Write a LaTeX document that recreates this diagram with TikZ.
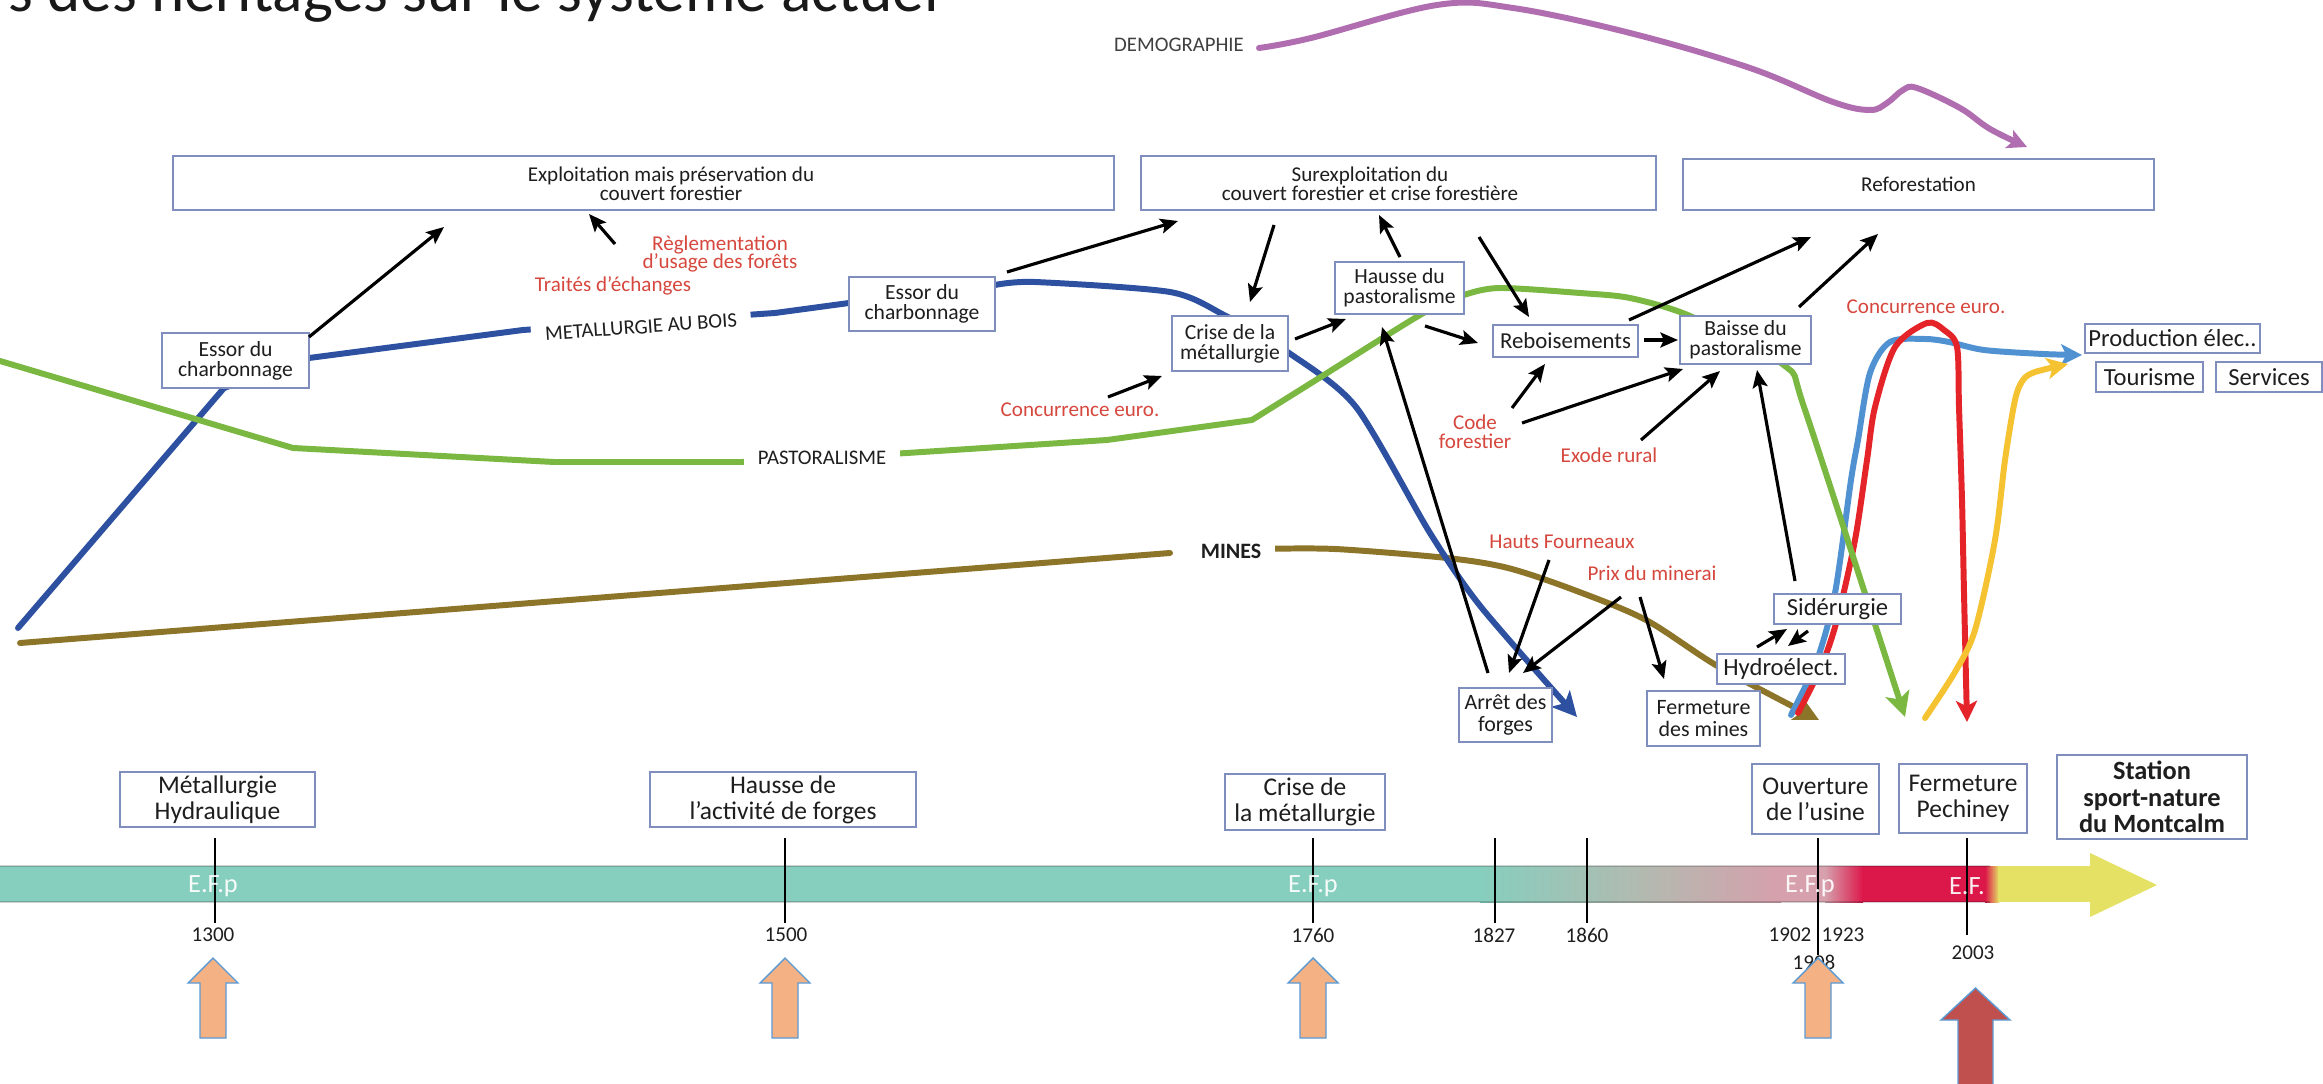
\documentclass[tikz,border=0pt]{standalone}
\usepackage{fontspec}
\setmainfont{Carlito}
\usetikzlibrary{arrows.meta,calc}

\definecolor{boxc}{RGB}{128,142,190}
\definecolor{txtc}{RGB}{30,30,30}
\definecolor{redl}{RGB}{214,72,62}
\definecolor{metb}{RGB}{45,80,160}
\definecolor{pastg}{RGB}{122,184,66}
\definecolor{mineb}{RGB}{140,116,40}
\definecolor{demop}{RGB}{176,110,176}
\definecolor{elecb}{RGB}{80,145,210}
\definecolor{hydror}{RGB}{228,36,40}
\definecolor{touy}{RGB}{245,195,50}
\definecolor{bandteal}{RGB}{134,206,189}
\definecolor{bandgrey}{RGB}{178,186,176}
\definecolor{bandmauve}{RGB}{214,160,172}
\definecolor{bandred}{RGB}{220,24,74}
\definecolor{bandyel}{RGB}{228,225,100}
\definecolor{uparr}{RGB}{244,177,131}
\definecolor{uparrline}{RGB}{91,155,213}
\definecolor{bigarr}{RGB}{192,80,77}

\newcommand{\sztop}{\fontsize{12}{11}\selectfont}
\newcommand{\szmid}{\fontsize{12.3}{11.5}\selectfont}
\newcommand{\szsml}{\fontsize{14}{14}\selectfont}
\newcommand{\sztl}{\fontsize{14.5}{14.8}\selectfont}
\newcommand{\szred}{\fontsize{12}{10.6}\selectfont}
\newcommand{\szline}{\fontsize{11.8}{12}\selectfont}
\newcommand{\szyr}{\fontsize{12}{12}\selectfont}

\begin{document}
\begin{tikzpicture}[x=0.02cm,y=-0.02cm,
  curve/.style={line width=3.4pt, line cap=round, line join=round},
  bigtip/.style={-{Stealth[length=14pt,width=14pt,inset=3.5pt]}},
  midtip/.style={-{Stealth[length=12pt,width=12pt,inset=3pt]}},
  blk/.style={line width=1.8pt, -{Stealth[length=10pt,width=8.5pt,inset=2pt]}},
  bx/.style={draw=boxc, line width=0.9pt, fill=white, inner sep=0pt, align=center, text=txtc},
  btxt/.style={align=center, text=txtc, inner sep=0pt},
  redlab/.style={text=redl, align=center, inner sep=1pt, font=\szred},
  linelab/.style={fill=white, text=txtc, inner xsep=8pt, inner ysep=3pt, font=\szline},
  yr/.style={font=\szyr, text=txtc, inner sep=0pt},
  efp/.style={text=white, opacity=0.92, font=\fontsize{15}{15}\selectfont, inner sep=0pt},
  tick/.style={line width=0.8pt, black},
  upblock/.style={fill=uparr, draw=uparrline, line width=0.8pt}
]
\useasboundingbox (0,0) rectangle (2323,1084);
\fill[white] (0,0) rectangle (2323,1084);

% heading
\node[anchor=base west, inner sep=0pt, font=\fontsize{36}{40}\selectfont, text=black!90] (title) at (8,12)
  {s des héritages sur le système actuel};

% ---------- trend curves ----------
\draw[curve, demop, -{Stealth[length=11pt,width=11pt,inset=2.5pt]}] plot[smooth, tension=0.6] coordinates
  {(1259,48) (1311,38) (1437,5) (1513,8) (1630,33) (1750,68) (1833,102) (1870,110) (1887,103) (1903,90) (1917,88) (1960,108) (1990,129) (2027,147)};

% mining
\draw[curve, mineb] (20,643) -- (1170,553);
\draw[curve, mineb, bigtip] plot[smooth, tension=0.5] coordinates
  {(1262,549) (1335,549) (1447,558) (1508,568) (1574,590) (1646,620) (1719,667) (1819,720)};

% charcoal metallurgy
\draw[curve, metb, bigtip] (18,628) -- (224,388)
  -- (309,358) -- (523,330) -- (775,313) -- (849,303) -- (995,285)
  plot[smooth, tension=0.45] coordinates
  {(995,285) (1035,282) (1170,292) (1224,315) (1289,353) (1356,407) (1430,533) (1481,607) (1577,717)};

% electricity production
\draw[curve, elecb, midtip] plot[smooth, tension=0.5] coordinates
  {(1791,715) (1817,660) (1835,593) (1851,480) (1858,440) (1870,373) (1890,342) (1925,339) (1949,342) (1984,350) (2043,354) (2082,355)};

% hydro-electricity
\draw[curve, hydror, midtip] plot[smooth, tension=0.5] coordinates
  {(1798,713) (1821,667) (1837,620) (1855,540) (1867,460) (1875,407) (1895,347) (1927,323) (1944,330) (1957,347) (1959,407) (1962,500) (1964,593) (1967,722)};

% pastoralism
\draw[curve, pastg, bigtip] (0,361) -- (293,448) -- (554,462) -- (742,462) -- (907,453) -- (1107,440) -- (1252,420)
  plot[smooth, tension=0.45] coordinates
  {(1252,420) (1316,380) (1420,315) (1464,295) (1500,288) (1580,293) (1630,298) (1690,316) (1785,366) (1805,410) (1905,717)};

% tourism
\draw[curve, touy, midtip] plot[smooth, tension=0.5] coordinates
  {(1925,718) (1955,672) (1975,630) (1995,540) (2005,460) (2015,400) (2023,380) (2035,372) (2068,364)};

% curve names
\node[linelab, rotate=4] (metlab) at (641,327) {METALLURGIE AU BOIS};
\node[linelab] (pastlab) at (822,458) {PASTORALISME};
\node[linelab, font=\fontsize{12.5}{12.5}\selectfont\bfseries] (minelab) at (1231,551) {MINES};
\node[text=txtc!85, inner sep=0pt, font=\szline] (demolab) at (1179,45) {DEMOGRAPHIE};

% ---------- upper boxes ----------
\node[bx, minimum width=18.82cm, minimum height=1.08cm] (expl) at (643.5,183) {};
\node[btxt, font=\sztop] (expltxt) at (671,184) {Exploitation mais préservation du\\couvert forestier};
\node[bx, minimum width=10.3cm, minimum height=1.08cm] (surexp) at (1398.5,183) {};
\node[btxt, font=\sztop] (surexptxt) at (1370,184) {Surexploitation du\\couvert forestier et crise forestière};
\node[bx, minimum width=9.42cm, minimum height=1.02cm, font=\sztop] (refor) at (1918.5,184.5) {Reforestation};

\node[bx, minimum width=2.94cm, minimum height=1.1cm, font=\szmid] (essor1) at (235.5,360.5) {Essor du\\charbonnage};
\node[bx, minimum width=2.92cm, minimum height=1.08cm, font=\szmid] (essor2) at (922,304) {Essor du\\charbonnage};
\node[bx, minimum width=2.32cm, minimum height=1.1cm, font=\szmid] (crise) at (1230,343.5) {Crise de la\\métallurgie};
\node[bx, minimum width=2.58cm, minimum height=1.04cm, font=\szmid] (hausse) at (1399.5,288) {Hausse du\\pastoralisme};
\node[bx, minimum width=2.9cm, minimum height=0.64cm, font=\fontsize{13}{13}\selectfont] (rebois) at (1565.5,341) {Reboisements};
\node[bx, minimum width=2.62cm, minimum height=0.96cm, font=\szmid] (baisse) at (1745.5,340) {Baisse du\\pastoralisme};
\node[bx, minimum width=3.5cm, minimum height=0.58cm, font=\szsml] (prod) at (2172.5,338.5) {Production élec..};
\node[bx, minimum width=2.14cm, minimum height=0.6cm, font=\szsml] (tour) at (2149.5,377) {Tourisme};
\node[bx, minimum width=2.12cm, minimum height=0.6cm, font=\szsml] (serv) at (2269,377) {Services};

\node[bx, minimum width=1.86cm, minimum height=1.08cm, font=\fontsize{12.5}{12.5}\selectfont] (arret) at (1505.5,715) {Arrêt des\\forges};
\node[bx, minimum width=2.26cm, minimum height=1.1cm, font=\fontsize{12.5}{12.5}\selectfont] (fermm) at (1703.5,718.5) {Fermeture\\des mines};
\node[bx, minimum width=2.56cm, minimum height=0.6cm, font=\szsml] (hydro) at (1781,669) {Hydroélect.};
\node[bx, minimum width=2.54cm, minimum height=0.6cm, font=\szsml] (sider) at (1837.5,609) {Sidérurgie};

% ---------- factors ----------
\node[redlab] (regl) at (720,254) {Règlementation\\d’usage des forêts};
\node[redlab] (trait) at (613,286) {Traités d’échanges};
\node[redlab] (conc1) at (1080,410) {Concurrence euro.};
\node[redlab] (code) at (1475,432) {Code\\forestier};
\node[redlab] (exode) at (1609,455) {Exode rural};
\node[redlab] (conc2) at (1926,307) {Concurrence euro.};
\node[redlab] (hauts) at (1562,542) {Hauts Fourneaux};
\node[redlab] (prix) at (1652,573) {Prix du minerai};

% ---------- causal links ----------
\coordinate (e1out) at (309,337);   \coordinate (explin1) at (444,227);
\coordinate (trout) at (615,244);   \coordinate (explin2) at (589,214);
\coordinate (e2out) at (1007,272);  \coordinate (surin1) at (1178,221);
\coordinate (surout1) at (1274,225); \coordinate (crisin) at (1250,302);
\coordinate (hauout1) at (1400,257); \coordinate (surin2) at (1379,215);
\coordinate (surout2) at (1479,237); \coordinate (rebin1) at (1529,317);
\coordinate (crisout) at (1295,339); \coordinate (hauin1) at (1346,319);
\coordinate (c1out) at (1108,397);  \coordinate (crisin2) at (1162,376);
\coordinate (hauout2) at (1425,326); \coordinate (rebin2) at (1478,343);
\coordinate (arrout) at (1488,673); \coordinate (hauin2) at (1382,327);
\coordinate (codeout1) at (1512,408); \coordinate (rebin3) at (1545,364);
\coordinate (codeout2) at (1522,423); \coordinate (baiin1) at (1683,369);
\coordinate (exout) at (1641,440);  \coordinate (baiin2) at (1720,371);
\coordinate (rebout1) at (1644,340); \coordinate (baiin3) at (1678,340);
\coordinate (rebout2) at (1629,320); \coordinate (refin1) at (1811,237);
\coordinate (baiout) at (1799,307); \coordinate (refin2) at (1878,234);
\coordinate (sidout) at (1795,581); \coordinate (baiin4) at (1757,370);
\coordinate (hfout) at (1549,560);  \coordinate (arrin1) at (1509,673);
\coordinate (prout1) at (1621,597); \coordinate (arrin2) at (1523,673);
\coordinate (prout2) at (1640,597); \coordinate (fmin) at (1664,679);
\coordinate (hyout) at (1757,647);  \coordinate (sidin) at (1787,629);
\coordinate (sidout2) at (1808,631); \coordinate (hyin) at (1788,646);

\draw[blk] (e1out) -- (explin1);
\draw[blk] (trout) -- (explin2);
\draw[blk] (e2out) -- (surin1);
\draw[blk] (surout1) -- (crisin);
\draw[blk] (hauout1) -- (surin2);
\draw[blk] (surout2) -- (rebin1);
\draw[blk] (crisout) -- (hauin1);
\draw[blk] (c1out) -- (crisin2);
\draw[blk] (hauout2) -- (rebin2);
\draw[blk] (arrout) -- (hauin2);
\draw[blk] (codeout1) -- (rebin3);
\draw[blk] (codeout2) -- (baiin1);
\draw[blk] (exout) -- (baiin2);
\draw[blk] (rebout1) -- (baiin3);
\draw[blk] (rebout2) -- (refin1);
\draw[blk] (baiout) -- (refin2);
\draw[blk] (sidout) -- (baiin4);
\draw[blk] (hfout) -- (arrin1);
\draw[blk] (prout1) -- (arrin2);
\draw[blk] (prout2) -- (fmin);
\draw[blk] (hyout) -- (sidin);
\draw[blk] (sidout2) -- (hyin);

% ---------- time band ----------
\fill[bandteal] (0,866) rectangle (1481,902);
\shade[left color=bandteal, right color=bandgrey] (1480,866) rectangle (1641,902);
\shade[left color=bandgrey, right color=bandmauve] (1640,866) rectangle (1781,902);
\fill[bandmauve] (1780,866) rectangle (1826,902);
\shade[left color=bandmauve, right color=bandred] (1825,866) rectangle (1863,902);
\fill[bandred] (1862,866) rectangle (1986,902);
\shade[left color=bandred, right color=bandyel] (1985,866) rectangle (1999,902);
\fill[bandyel] (1998,866) rectangle (2092,902);
\fill[bandyel] (2090,853) -- (2157,885) -- (2090,917) -- cycle;
\draw[black, opacity=0.18, line width=0.6pt] (0,866) -- (1990,866) (0,902) -- (1990,902);

\foreach \x/\yb in {215/923, 785/923, 1313/923, 1495/923, 1587/923, 1818/955, 1967/935}
  \draw[tick] (\x,838) -- (\x,\yb);

\node[efp] (efp1) at (213,886) {E.F.p};
\node[efp] (efp2) at (1313,886) {E.F.p};
\node[efp] (efp3) at (1810,886) {E.F.p};
\node[efp] (ef4) at (1967,886) {E.F.};

\node[yr] (y1300) at (213,935) {1300};
\node[yr] (y1500) at (786,935) {1500};
\node[yr] (y1760) at (1313,935) {1760};
\node[yr] (y1827) at (1494,935) {1827};
\node[yr] (y1860) at (1587,935) {1860};
\node[yr] (y1902) at (1790,935) {1902};
\node[yr] (y1923) at (1843,935) {1923};
\node[yr] (y1908) at (1814,962) {1908};
\node[yr] (y2003) at (1973,953) {2003};

% period boxes
\node[bx, minimum width=3.9cm, minimum height=1.1cm, font=\sztl] (tmet) at (217.5,799.5) {Métallurgie\\Hydraulique};
\node[bx, minimum width=5.32cm, minimum height=1.1cm, font=\sztl] (thau) at (783,799.5) {Hausse de\\l’activité de forges};
\node[bx, minimum width=3.2cm, minimum height=1.12cm, font=\sztl] (tcri) at (1305,802) {Crise de\\la métallurgie};
\node[bx, minimum width=2.54cm, minimum height=1.4cm, font=\sztl] (touv) at (1815.5,799) {Ouverture\\de l’usine};
\node[bx, minimum width=2.56cm, minimum height=1.38cm, font=\sztl] (tferm) at (1963,798.5) {Fermeture\\Pechiney};
\node[bx, minimum width=3.8cm, minimum height=1.68cm, font=\fontsize{15}{15.2}\selectfont\bfseries] (tsta) at (2152,797) {Station\\sport-nature\\du Montcalm};

% block arrows under the dates
\foreach \x in {213,785,1313,1818}
  \draw[upblock] (\x-13,1038) -- (\x-13,983) -- (\x-25,983) -- (\x,958) -- (\x+25,983) -- (\x+13,983) -- (\x+13,1038) -- cycle;
\draw[fill=bigarr, draw=uparrline, line width=0.8pt] (1958,1090) -- (1958,1020) -- (1941,1020) -- (1975.5,988) -- (2010,1020) -- (1993,1020) -- (1993,1090) -- cycle;

\end{tikzpicture}
\end{document}
